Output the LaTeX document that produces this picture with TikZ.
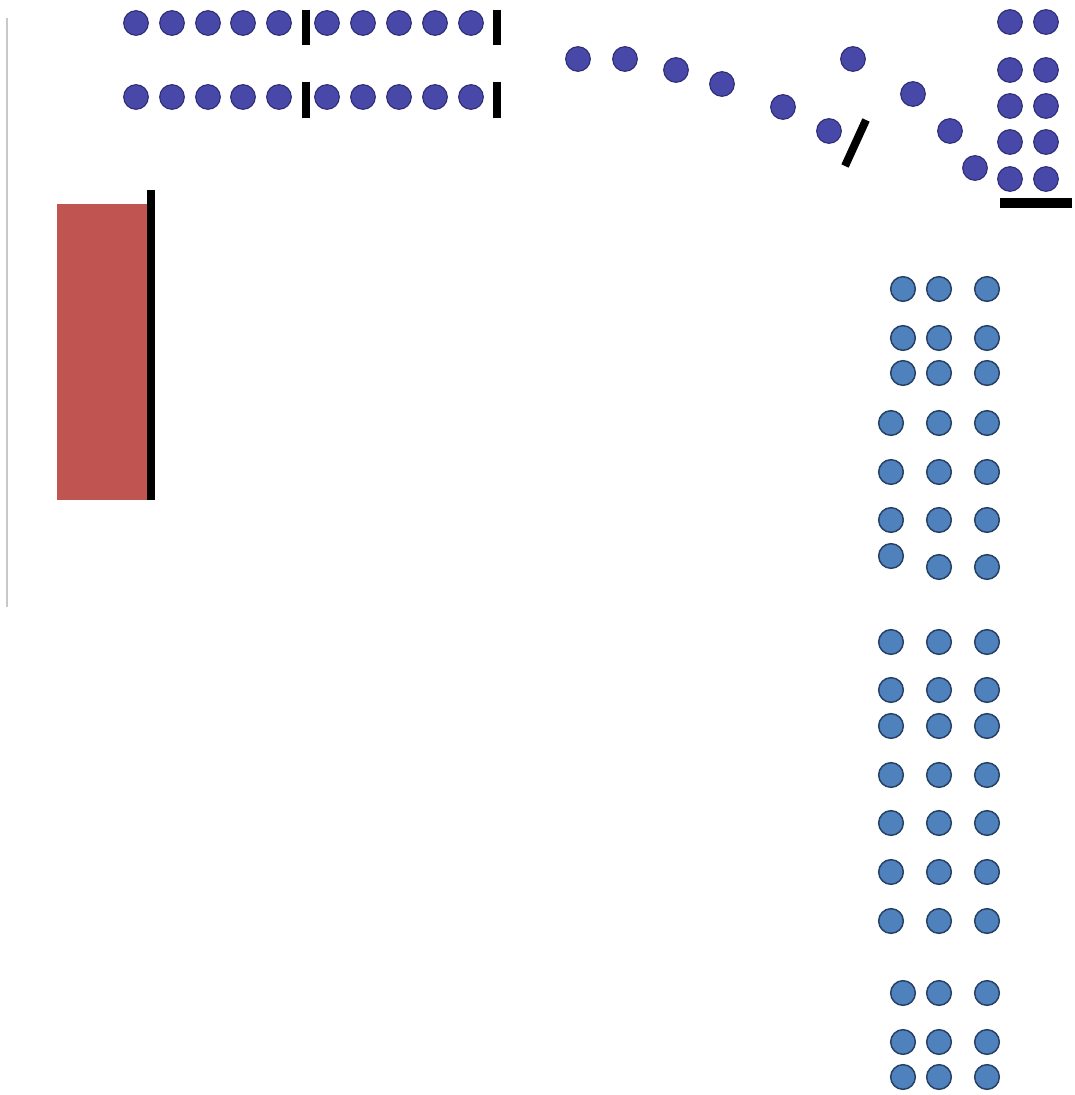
\documentclass[tikz,border=0pt]{standalone}
\usetikzlibrary{positioning}

\definecolor{rowblue}{RGB}{72,72,168}
\definecolor{rowedge}{RGB}{44,44,118}
\definecolor{gridblue}{RGB}{79,129,189}
\definecolor{gridedge}{RGB}{38,64,100}
\definecolor{blockred}{RGB}{192,84,80}

\tikzset{every picture/.style={line width=0.75pt}}
\tikzset{
  pdot/.style={circle,inner sep=0pt,minimum size=18.5pt,fill=rowblue,draw=rowedge,line width=0.8pt},
  gdot/.style={circle,inner sep=0pt,minimum size=18.5pt,fill=gridblue,draw=gridedge,line width=1.1pt},
  wall/.style={line width=6pt,black}
}

\begin{document}
\begin{tikzpicture}[x=0.75pt,y=0.75pt,yscale=-1,xscale=1]
\useasboundingbox (0,0) rectangle (1074,1095);

%Straight Lines (left edge)
\draw [color={rgb, 255:red, 200; green, 200; blue, 200 }, line width=1.2pt] (7,18) -- (7,607) ;

%Shape: Rectangle (red block)
\fill [blockred] (57,204) rectangle (148,500) ;
%Straight Lines (bar at block)
\draw [wall] (150.5,190) -- (150.5,500) ;

%Top rows of particles
\foreach \r/\y in {a/23,b/97}{
  \foreach \i/\x in {1/136,2/172,3/208,4/243,5/279,6/327,7/363,8/399,9/435,10/471}{
    \node [pdot] (\r\i) at (\x,\y) {};
  }
}
%Straight Lines (gates)
\draw [wall] (306,10) -- (306,45) ;
\draw [wall] (497,10) -- (497,45) ;
\draw [wall] (306,82) -- (306,118) ;
\draw [wall] (497,82) -- (497,118) ;

%Curved path of particles
\foreach \i/\x/\y in {1/578/59,2/625/59,3/676/70,4/722/84,5/783/107,6/829/131}{
  \node [pdot] (c\i) at (\x,\y) {};
}
\foreach \i/\x/\y in {1/853/59,2/913/94,3/950/131,4/975/168}{
  \node [pdot] (d\i) at (\x,\y) {};
}
%Straight Lines (slanted gate)
\coordinate (s1) at (866,120) ;
\coordinate (s2) at (845,166) ;
\draw [wall] (s1) -- (s2) ;

%Top right stack
\foreach \i/\y in {1/22,2/70,3/106,4/142,5/179}{
  \node [pdot] (e\i) at (1010,\y) {};
  \node [pdot] (f\i) at (1046,\y) {};
}
\coordinate (w1) at (1000,203) ;
\coordinate (w2) at (1072,203) ;
\draw [wall, line width=7pt] (w1) -- (w2) ;

%Right column grid
\foreach \i/\y/\x in {1/289/903,2/338/903,3/373/903,4/423/891,5/472/891,6/520/891,
  8/642/891,9/690/891,10/726/891,11/775/891,12/823/891,13/872/891,14/921/891,
  15/993/903,16/1042/903,17/1077/903}{
  \node [gdot] (g\i a) at (\x,\y) {};
  \node [gdot] (g\i b) at (939,\y) {};
  \node [gdot] (g\i c) at (987,\y) {};
}
\node [gdot] (g7a) at (891,556) {};
\node [gdot] (g7b) at (939,567) {};
\node [gdot] (g7c) at (987,567) {};

\end{tikzpicture}
\end{document}
